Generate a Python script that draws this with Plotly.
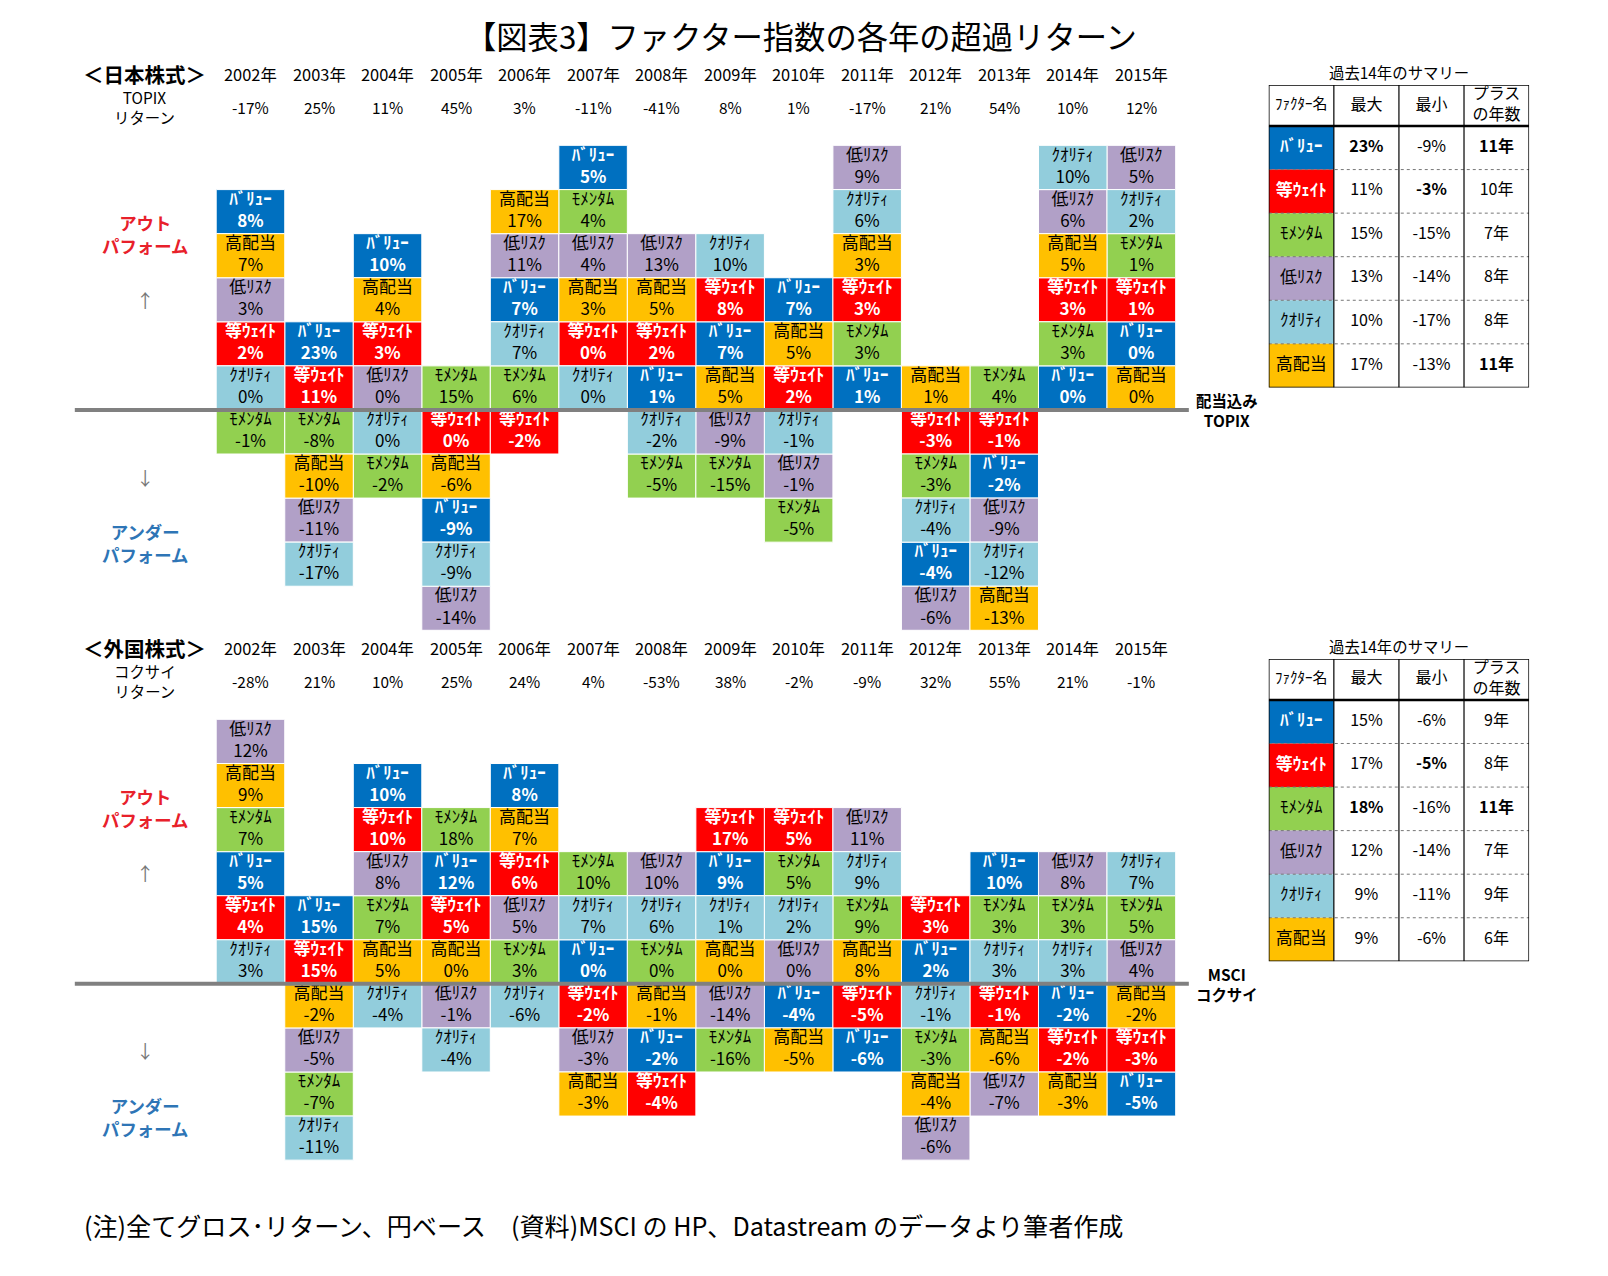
import plotly.graph_objects as go

W, H = 1608, 1276
S = 1608 / 1569  # layout measured on a 1569-wide view of the reference
FONT = "Noto Sans CJK JP"

# ---------------- data ----------------
years = [2002, 2003, 2004, 2005, 2006, 2007, 2008, 2009, 2010, 2011, 2012, 2013, 2014, 2015]

factor_codes = ["V", "E", "M", "L", "Q", "D"]
factor_names = {"V": "ﾊﾞﾘｭｰ", "E": "等ｳｪｲﾄ", "M": "ﾓﾒﾝﾀﾑ", "L": "低ﾘｽｸ", "Q": "ｸｵﾘﾃｨ", "D": "高配当"}
factor_colors = {"V": "#0070C0", "E": "#FF0000", "M": "#92D050", "L": "#B1A0C7", "Q": "#92CDDC", "D": "#FFC000"}
factor_text = {"V": "white", "E": "white", "M": "black", "L": "black", "Q": "black", "D": "black"}

# Japan: factors ranked from top to bottom each year, with excess return (%)
jp_rank = [
    ["V", "D", "L", "E", "Q", "M"],
    ["V", "E", "M", "D", "L", "Q"],
    ["V", "D", "E", "L", "Q", "M"],
    ["M", "E", "D", "V", "Q", "L"],
    ["D", "L", "V", "Q", "M", "E"],
    ["V", "M", "L", "D", "E", "Q"],
    ["L", "D", "E", "V", "Q", "M"],
    ["Q", "E", "V", "D", "L", "M"],
    ["V", "D", "E", "Q", "L", "M"],
    ["L", "Q", "D", "E", "M", "V"],
    ["D", "E", "M", "Q", "V", "L"],
    ["M", "E", "V", "L", "Q", "D"],
    ["Q", "L", "D", "E", "M", "V"],
    ["L", "Q", "M", "E", "V", "D"],
]
jp_excess = [
    [8, 7, 3, 2, 0, -1],
    [23, 11, -8, -10, -11, -17],
    [10, 4, 3, 0, 0, -2],
    [15, 0, -6, -9, -9, -14],
    [17, 11, 7, 7, 6, -2],
    [5, 4, 4, 3, 0, 0],
    [13, 5, 2, 1, -2, -5],
    [10, 8, 7, 5, -9, -15],
    [7, 5, 2, -1, -1, -5],
    [9, 6, 3, 3, 3, 1],
    [1, -3, -3, -4, -4, -6],
    [4, -1, -2, -9, -12, -13],
    [10, 6, 5, 3, 3, 0],
    [5, 2, 1, 1, 0, 0],
]
jp_n_out = [5, 2, 4, 1, 5, 6, 4, 4, 3, 6, 1, 1, 6, 6]
topix_return = [-17, 25, 11, 45, 3, -11, -41, 8, 1, -17, 21, 54, 10, 12]

# Foreign
fx_rank = [
    ["L", "D", "M", "V", "E", "Q"],
    ["V", "E", "D", "L", "M", "Q"],
    ["V", "E", "L", "M", "D", "Q"],
    ["M", "V", "E", "D", "L", "Q"],
    ["V", "D", "E", "L", "M", "Q"],
    ["M", "Q", "V", "E", "L", "D"],
    ["L", "Q", "M", "D", "V", "E"],
    ["E", "V", "Q", "D", "L", "M"],
    ["E", "M", "Q", "L", "V", "D"],
    ["L", "Q", "M", "D", "E", "V"],
    ["E", "V", "Q", "M", "D", "L"],
    ["V", "M", "Q", "E", "D", "L"],
    ["L", "M", "Q", "V", "E", "D"],
    ["Q", "M", "L", "D", "E", "V"],
]
fx_excess = [
    [12, 9, 7, 5, 4, 3],
    [15, 15, -2, -5, -7, -11],
    [10, 10, 8, 7, 5, -4],
    [18, 12, 5, 0, -1, -4],
    [8, 7, 6, 5, 3, -6],
    [10, 7, 0, -2, -3, -3],
    [10, 6, 0, -1, -2, -4],
    [17, 9, 1, 0, -14, -16],
    [5, 5, 2, 0, -4, -5],
    [11, 9, 9, 8, -5, -6],
    [3, 2, -1, -3, -4, -6],
    [10, 3, 3, -1, -6, -7],
    [8, 3, 3, -2, -2, -3],
    [7, 5, 4, -2, -3, -5],
]
fx_n_out = [6, 2, 5, 4, 5, 3, 3, 4, 4, 4, 2, 3, 3, 3]
kokusai_return = [-28, 21, 10, 25, 24, 4, -53, 38, -2, -9, 32, 55, 21, -1]

# Summary tables (order: factor_codes)
jp_tbl_max = [23, 11, 15, 13, 10, 17]
jp_tbl_min = [-9, -3, -15, -14, -17, -13]
jp_tbl_plus = [11, 10, 7, 8, 8, 11]
fx_tbl_max = [15, 17, 18, 12, 9, 9]
fx_tbl_min = [-6, -5, -16, -14, -11, -6]
fx_tbl_plus = [9, 8, 11, 7, 9, 6]

# ---------------- helpers ----------------
def px(x):
    return x * S / W

def py(y):
    return 1 - y * S / H

def fs(size):
    return round(size * S, 1)

fig = go.Figure()
shapes = []
annotations = []
CELL_FONT = 17


def add_panel(rank, excess, n_out, xa, ya):
    cells = {c: {"x": [], "base": []} for c in factor_codes}
    tx, ty, tt, tc = [], [], [], []
    for yr, order, vals, n in zip(years, rank, excess, n_out):
        for k, (c, v) in enumerate(zip(order, vals)):
            base = (n - 1 - k) if k < n else -(k - n + 1)
            cells[c]["x"].append(yr)
            cells[c]["base"].append(base)
            label = f"{factor_names[c]}<br>{v}%"
            if factor_text[c] == "white":
                label = f"<b>{label}</b>"
            tx.append(yr)
            ty.append(base + 0.5)
            tt.append(label)
            tc.append(factor_text[c])
    for c in factor_codes:
        fig.add_trace(go.Bar(
            x=cells[c]["x"], y=[1] * len(cells[c]["x"]), base=cells[c]["base"],
            width=1, marker=dict(color=factor_colors[c], line=dict(color="white", width=1)),
            xaxis=xa, yaxis=ya, showlegend=False, hoverinfo="skip"))
    fig.add_trace(go.Scatter(
        x=tx, y=ty, text=tt, mode="text", textposition="middle center",
        textfont=dict(family=FONT, size=CELL_FONT, color=tc),
        xaxis=xa, yaxis=ya, showlegend=False, hoverinfo="skip"))


add_panel(jp_rank, jp_excess, jp_n_out, "x", "y")
add_panel(fx_rank, fx_excess, fx_n_out, "x2", "y2")


def add_table(vmax, vmin, vplus, xa, ya):
    hdr = -0.94
    for i, c in enumerate(factor_codes):
        shapes.append(dict(type="rect", xref=xa, yref=ya, x0=0, x1=1, y0=i, y1=i + 1,
                           fillcolor=factor_colors[c], line=dict(width=0), layer="below"))
    for i in range(1, 6):
        shapes.append(dict(type="line", xref=xa, yref=ya, x0=0, x1=4, y0=i, y1=i,
                           line=dict(color="#777777", width=1, dash="dot")))
    for j in range(1, 4):
        shapes.append(dict(type="line", xref=xa, yref=ya, x0=j, x1=j, y0=hdr, y1=6,
                           line=dict(color="black", width=1.2)))
    shapes.append(dict(type="line", xref=xa, yref=ya, x0=0, x1=4, y0=0, y1=0,
                       line=dict(color="black", width=2.5)))
    shapes.append(dict(type="rect", xref=xa, yref=ya, x0=0, x1=4, y0=hdr, y1=6,
                       line=dict(color="black", width=1.5)))
    bmax, bmin, bplus = max(vmax), max(vmin), max(vplus)
    tx, ty, tt, tc, ts = [], [], [], [], []
    headers = ["ﾌｧｸﾀｰ名", "最大", "最小", "プラス<br>の年数"]
    for j, h in enumerate(headers):
        tx.append(j + 0.5); ty.append(hdr / 2); tt.append(h); tc.append("black"); ts.append(15 if j == 0 else 16)
    for i, c in enumerate(factor_codes):
        nm = factor_names[c]
        if factor_text[c] == "white":
            nm = f"<b>{nm}</b>"
        tx.append(0.5); ty.append(i + 0.5); tt.append(nm); tc.append(factor_text[c]); ts.append(17)
        for j, (val, best, suf) in enumerate([(vmax[i], bmax, "%"), (vmin[i], bmin, "%"), (vplus[i], bplus, "年")]):
            s = f"{val}{suf}"
            if val == best:
                s = f"<b>{s}</b>"
            tx.append(j + 1.5); ty.append(i + 0.5); tt.append(s); tc.append("black"); ts.append(16)
    fig.add_trace(go.Scatter(
        x=tx, y=ty, text=tt, mode="text", textposition="middle center",
        textfont=dict(family=FONT, size=ts, color=tc),
        xaxis=xa, yaxis=ya, showlegend=False, hoverinfo="skip"))


add_table(jp_tbl_max, jp_tbl_min, jp_tbl_plus, "x3", "y3")
add_table(fx_tbl_max, fx_tbl_min, fx_tbl_plus, "x4", "y4")

# baselines
for ya in ["y", "y2"]:
    shapes.append(dict(type="line", xref="paper", yref=ya, x0=px(73), x1=px(1160), y0=0, y1=0,
                       line=dict(color="#808080", width=4)))


def ann(x, y, text, size=15, color="black", xanchor="center", xref="paper", bold=False):
    if bold:
        text = f"<b>{text}</b>"
    annotations.append(dict(x=x, y=y, xref=xref, yref="paper", text=text, showarrow=False,
                            xanchor=xanchor, yanchor="middle",
                            font=dict(family=FONT, size=fs(size), color=color)))


for (xa, y_year, y_ret, rets, sect, retlbl, y_out, y_up, y_dn, y_und, y_right, rlbl, y_ttl) in [
    ("x", 72, 104, topix_return, "＜日本株式＞", "TOPIX<br>リターン", 228, 293, 465, 530, 400, "配当込み<br>TOPIX", 70),
    ("x2", 632, 664, kokusai_return, "＜外国株式＞", "コクサイ<br>リターン", 788, 852, 1025, 1090, 960, "MSCI<br>コクサイ", 630),
]:
    for yr, r in zip(years, rets):
        ann(yr, py(y_year), f"{yr}年", size=16, xref=xa)
        ann(yr, py(y_ret), f"{r}%", size=15, xref=xa)
    ann(px(141), py(y_year), sect, size=20, bold=True)
    ann(px(141), py(y_ret), retlbl, size=15)
    ann(px(141), py(y_out), "アウト<br>パフォーム", size=17, color="#E8202A", bold=True)
    ann(px(141), py(y_up), "↑", size=18, color="#777777")
    ann(px(141), py(y_dn), "↓", size=18, color="#777777")
    ann(px(141), py(y_und), "アンダー<br>パフォーム", size=17, color="#2E75B6", bold=True)
    ann(px(1197), py(y_right), rlbl, size=15, bold=True)
    ann(px(1365), py(y_ttl), "過去14年のサマリー", size=15)

ann(px(782), py(35), "【図表3】ファクター指数の各年の超過リターン", size=30.5)
ann(px(80), py(1195), "(注)全てグロス･リターン、円ベース　(資料)MSCI の HP、Datastream のデータより筆者作成",
    size=24.5, xanchor="left")

ax = dict(showgrid=False, zeroline=False, showticklabels=False, showline=False, ticks="", fixedrange=True)
fig.update_layout(
    width=W, height=H, margin=dict(l=0, r=0, t=0, b=0),
    paper_bgcolor="white", plot_bgcolor="white", barmode="overlay",
    font=dict(family=FONT),
    xaxis=dict(ax, domain=[px(211), px(1147)], range=[2001.5, 2015.5], anchor="y"),
    yaxis=dict(ax, domain=[py(615), py(142)], range=[-5, 6], anchor="x"),
    xaxis2=dict(ax, domain=[px(211), px(1147)], range=[2001.5, 2015.5], anchor="y2"),
    yaxis2=dict(ax, domain=[py(1175), py(702)], range=[-5, 6], anchor="x2"),
    xaxis3=dict(ax, domain=[px(1238), px(1492)], range=[0, 4], anchor="y3"),
    yaxis3=dict(ax, domain=[py(378), py(83)], range=[6, -0.94], anchor="x3"),
    xaxis4=dict(ax, domain=[px(1238), px(1492)], range=[0, 4], anchor="y4"),
    yaxis4=dict(ax, domain=[py(938), py(643)], range=[6, -0.94], anchor="x4"),
    shapes=shapes, annotations=annotations,
)

fig.write_html(
    "out.html",
    config={"displayModeBar": False},
    post_script="document.documentElement.style.margin='0';document.body.style.margin='0';"
                "document.body.style.overflow='hidden';document.documentElement.style.overflow='hidden';",
)
